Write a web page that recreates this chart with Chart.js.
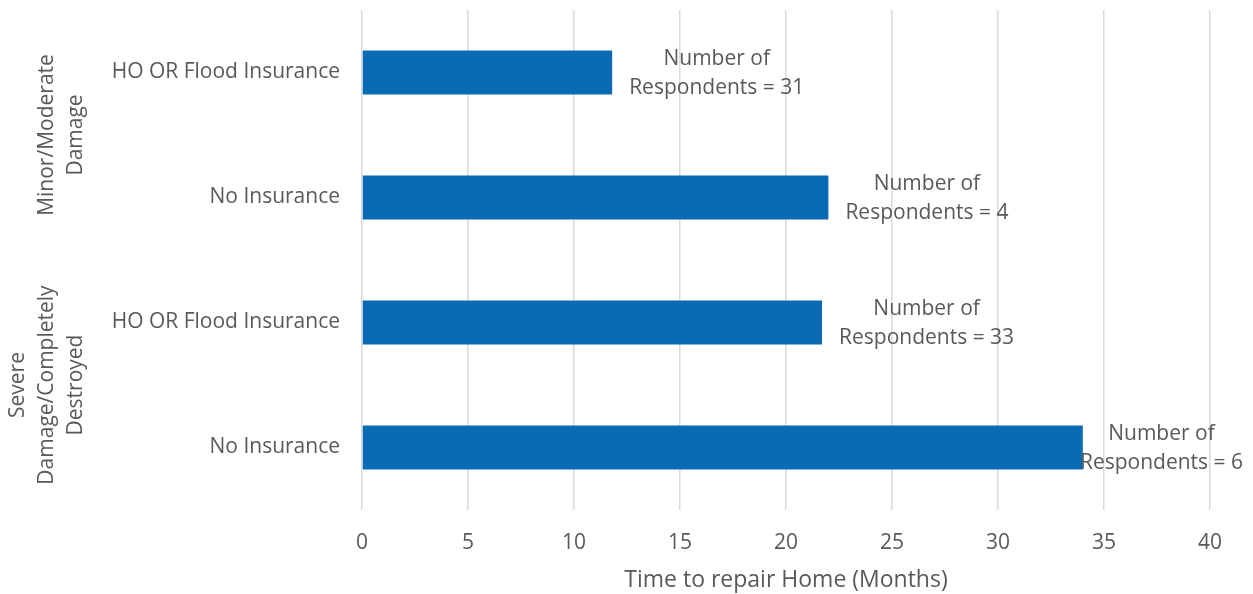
<!DOCTYPE html>
<html>
<head>
<meta charset="utf-8">
<script src="https://cdn.jsdelivr.net/npm/chart.js@4/dist/chart.umd.min.js"></script>
<style>
  html, body { margin: 0; padding: 0; background: #ffffff; }
  #wrap { width: 1253px; height: 594px; }
</style>
</head>
<body>
<div id="wrap"><canvas id="repairChart"></canvas></div>
<script>
// Category labels, top to bottom
const categories = ['HO OR Flood Insurance', 'No Insurance', 'HO OR Flood Insurance', 'No Insurance'];
// Outer grouping of the categories (text lines, and the category indices each covers)
const groupLabels = [
    ['Minor/Moderate', 'Damage'],
    ['Severe', 'Damage/Completely', 'Destroyed']
];
const groupSpans = [[0, 1], [2, 3]];
// Average time to repair, months
const repairMonths = [11.8, 22, 21.7, 34];
// Respondents behind each bar
const respondents = [31, 4, 33, 6];
// Axis range
const xMin = 0;
const xMax = 40;
const xStep = 5;

const textColor = '#595959';
const fontFamily = '"Open Sans", "DejaVu Sans", sans-serif';

// Two-line count label to the right of each bar, pulled back if it would run off the canvas
const countLabels = {
    id: 'countLabels',
    afterDatasetsDraw(chart, args, opts) {
        const ctx = chart.ctx;
        const meta = chart.getDatasetMeta(0);
        ctx.save();
        ctx.font = opts.size + 'px ' + fontFamily;
        ctx.fillStyle = textColor;
        ctx.textAlign = 'center';
        ctx.textBaseline = 'middle';
        meta.data.forEach((bar, i) => {
            const lines = ['Number of', 'Respondents = ' + respondents[i]];
            const w = Math.max(...lines.map(l => ctx.measureText(l).width));
            let cx = bar.x + opts.gap + w / 2;
            cx = Math.min(cx, chart.width - opts.edge - w / 2);
            ctx.fillText(lines[0], cx, bar.y - opts.lineHeight / 2 + opts.shift);
            ctx.fillText(lines[1], cx, bar.y + opts.lineHeight / 2 + opts.shift);
        });
        ctx.restore();
    }
};

// Rotated group captions left of the category labels
const groupCaptions = {
    id: 'groupCaptions',
    afterDraw(chart, args, opts) {
        const ctx = chart.ctx;
        const y = chart.scales.y;
        ctx.save();
        ctx.font = opts.size + 'px ' + fontFamily;
        ctx.fillStyle = textColor;
        ctx.textAlign = 'center';
        ctx.textBaseline = 'middle';
        groupLabels.forEach((lines, g) => {
            const span = groupSpans[g];
            const cy = (y.getPixelForValue(span[0]) + y.getPixelForValue(span[1])) / 2;
            lines.forEach((line, k) => {
                const cx = opts.lastLineX - (lines.length - 1 - k) * opts.lineHeight;
                ctx.save();
                ctx.translate(cx, cy);
                ctx.rotate(-Math.PI / 2);
                ctx.fillText(line, 0, 0);
                ctx.restore();
            });
        });
        ctx.restore();
    }
};

new Chart(document.getElementById('repairChart'), {
    type: 'bar',
    data: {
        labels: categories,
        datasets: [{
            data: repairMonths,
            backgroundColor: '#0a6bb4',
            borderWidth: 0,
            categoryPercentage: 1,
            barPercentage: 0.352
        }]
    },
    options: {
        indexAxis: 'y',
        responsive: true,
        maintainAspectRatio: false,
        animation: false,
        layout: {
            padding: { top: 10, right: 43, bottom: 0, left: 0 }
        },
        plugins: {
            legend: { display: false },
            tooltip: { enabled: false },
            countLabels: { size: 21, gap: 17, edge: 10, lineHeight: 29, shift: 1 },
            groupCaptions: { size: 21, lastLineX: 76, lineHeight: 29 }
        },
        scales: {
            x: {
                min: xMin,
                max: xMax,
                grid: { color: '#d9d9d9', lineWidth: 1.5, drawTicks: false },
                border: { display: false },
                ticks: {
                    stepSize: xStep,
                    color: textColor,
                    padding: 20,
                    font: { family: fontFamily, size: 21 }
                },
                title: {
                    display: true,
                    text: 'Time to repair Home (Months)',
                    color: textColor,
                    font: { family: fontFamily, size: 23 },
                    padding: { top: 2, bottom: 0 }
                },
                afterFit(scale) {
                    scale.height = 84;
                    scale.paddingLeft = 0;
                    scale.paddingRight = 0;
                }
            },
            y: {
                grid: { display: false, drawTicks: false },
                border: { display: false },
                ticks: {
                    color: textColor,
                    padding: 22,
                    font: { family: fontFamily, size: 21 }
                },
                afterFit(scale) {
                    scale.width = 362;
                    scale.paddingTop = 0;
                    scale.paddingBottom = 0;
                }
            }
        }
    },
    plugins: [countLabels, groupCaptions]
});
</script>
</body>
</html>
